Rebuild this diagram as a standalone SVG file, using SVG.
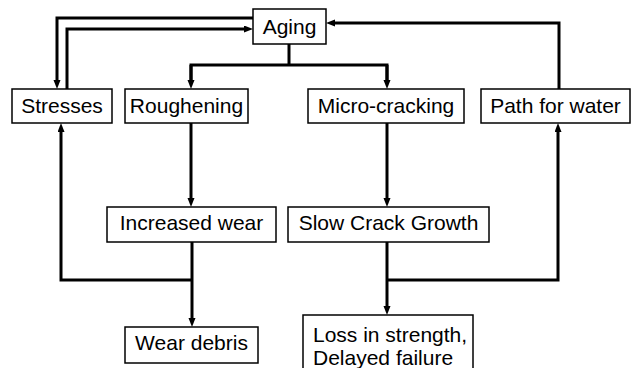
<svg xmlns="http://www.w3.org/2000/svg" width="632" height="368" viewBox="0 0 632 368">
<defs>
<style>
.box{fill:#fff;stroke:#000;stroke-width:1.5}
.t{font-family:"Liberation Sans",Arial,sans-serif;font-size:21px;fill:#000;text-anchor:middle}
.tl{font-family:"Liberation Sans",Arial,sans-serif;font-size:21px;fill:#000}
.c{fill:none;stroke:#000;stroke-width:3;stroke-linejoin:miter}
</style>
<marker id="ah" markerUnits="userSpaceOnUse" markerWidth="10" markerHeight="8" refX="0" refY="3.5" orient="auto">
<path d="M0,0 L9,3.5 L0,7 z" fill="#000"/>
</marker>
</defs>
<rect width="632" height="368" fill="#fff"/>
<g id="connectors">
<path class="c" d="M253,18 H57 V80" marker-end="url(#ah)"/>
<path class="c" d="M67,89 V29 H244" marker-end="url(#ah)"/>
<path class="c" d="M289,44 V65"/>
<path class="c" d="M191,80 V65 H387 V80" />
<path class="c" d="M191,65 V80" marker-end="url(#ah)"/>
<path class="c" d="M387,65 V80" marker-end="url(#ah)"/>
<path class="c" d="M559,89 V23 H335" marker-end="url(#ah)"/>
<path class="c" d="M191,123 V198" marker-end="url(#ah)"/>
<path class="c" d="M192,242 V318" marker-end="url(#ah)"/>
<path class="c" d="M192,280 H61 V132" marker-end="url(#ah)"/>
<path class="c" d="M387,123 V198" marker-end="url(#ah)"/>
<path class="c" d="M387,242 V306" marker-end="url(#ah)"/>
<path class="c" d="M387,280 H558 V132" marker-end="url(#ah)"/>
</g>
<g id="aging"><rect class="box" x="253" y="9" width="73" height="35"/><text class="t" x="289.5" y="34">Aging</text></g>
<g id="stresses"><rect class="box" x="12" y="89" width="100" height="34"/><text class="t" x="62" y="113">Stresses</text></g>
<g id="roughening"><rect class="box" x="125" y="89" width="123" height="34"/><text class="t" x="186.5" y="113">Roughening</text></g>
<g id="microcracking"><rect class="box" x="308" y="89" width="156" height="34"/><text class="t" x="386" y="113">Micro-cracking</text></g>
<g id="pathwater"><rect class="box" x="481" y="89" width="149" height="34"/><text class="t" x="555.5" y="113">Path for water</text></g>
<g id="increasedwear"><rect class="box" x="107" y="207" width="169" height="35"/><text class="t" x="191.5" y="230">Increased wear</text></g>
<g id="slowcrack"><rect class="box" x="288" y="207" width="201" height="35"/><text class="t" x="388.5" y="230">Slow Crack Growth</text></g>
<g id="weardebris"><rect class="box" x="125" y="327" width="133" height="36"/><text class="t" x="191.5" y="350">Wear debris</text></g>
<g id="loss"><rect class="box" x="303" y="315" width="170" height="60"/><text class="tl" x="313" y="342">Loss in strength,</text><text class="tl" x="313" y="365">Delayed failure</text></g>
</svg>
